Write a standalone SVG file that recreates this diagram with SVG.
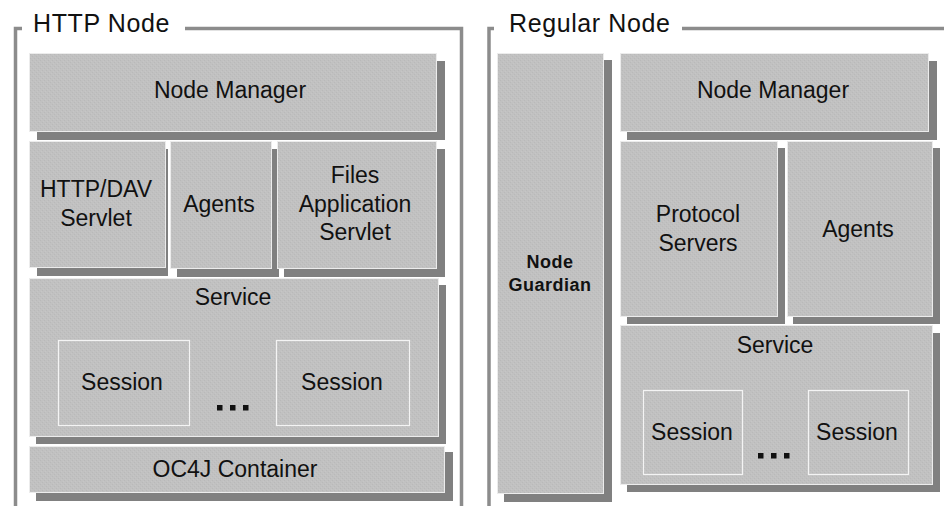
<svg xmlns="http://www.w3.org/2000/svg" width="944" height="506" viewBox="0 0 944 506">
  <defs>
    <pattern id="grain" width="4" height="4" patternUnits="userSpaceOnUse">
      <rect width="4" height="4" fill="#c1c1c1"/>
      <rect x="0" y="0" width="1" height="1" fill="#b9b9b9"/>
      <rect x="2" y="2" width="1" height="1" fill="#b9b9b9"/>
      <rect x="1" y="3" width="1" height="1" fill="#c6c6c6"/>
      <rect x="3" y="1" width="1" height="1" fill="#c6c6c6"/>
    </pattern>
  </defs>
  <style>
    .frame { fill: none; stroke: #8c8c8c; stroke-width: 3.5; }
    .shadow { fill: #808080; }
    .box { fill: url(#grain); stroke: #ececec; stroke-width: 1; }
    .inner { fill: none; stroke: #f4f4f4; stroke-width: 1.2; }
    .title { font-family: "Liberation Sans", Arial, sans-serif; font-size: 25px; fill: #111; }
    .lbl { font-family: "Liberation Sans", Arial, sans-serif; font-size: 23px; fill: #111; text-anchor: middle; }
    .small { font-family: "Liberation Sans", Arial, sans-serif; font-size: 18px; font-weight: bold; fill: #111; text-anchor: middle; }
    .dots { fill: #111; }
  </style>

  <!-- HTTP Node container -->
  <g id="http-node">
    <path class="frame" d="M15.5,506 V28.5 H22 M185,28.5 H461.5 V506"/>
    <text class="title" x="33" y="32" letter-spacing="0.6">HTTP Node</text>
  </g>

  <g id="http-node-manager">
    <rect class="shadow" x="37" y="61" width="408" height="79"/>
    <rect class="box" x="29.5" y="53.5" width="407" height="78"/>
    <text class="lbl" x="230" y="98">Node Manager</text>
  </g>

  <g id="http-dav-servlet">
    <rect class="shadow" x="37" y="149" width="131" height="127"/>
    <rect class="box" x="29.5" y="141.5" width="136" height="126"/>
    <text class="lbl" x="96" y="197">HTTP/DAV</text>
    <text class="lbl" x="96" y="226">Servlet</text>
  </g>

  <g id="http-agents">
    <rect class="shadow" x="177" y="149" width="102" height="128"/>
    <rect class="box" x="170.5" y="141.5" width="101" height="127"/>
    <text class="lbl" x="219" y="212">Agents</text>
  </g>

  <g id="files-application-servlet">
    <rect class="shadow" x="284" y="149" width="161" height="128"/>
    <rect class="box" x="277.5" y="141.5" width="159" height="127"/>
    <text class="lbl" x="355" y="183">Files</text>
    <text class="lbl" x="355" y="212">Application</text>
    <text class="lbl" x="355" y="240">Servlet</text>
  </g>

  <g id="http-service">
    <rect class="shadow" x="36" y="285" width="410" height="159"/>
    <rect class="box" x="29.5" y="278.5" width="409" height="158"/>
    <text class="lbl" x="233" y="305">Service</text>
    <g id="http-session-1">
      <rect class="inner" x="58.5" y="340.5" width="131" height="85"/>
      <text class="lbl" x="122" y="390">Session</text>
    </g>
    <g id="http-session-2">
      <rect class="inner" x="276.5" y="340.5" width="133" height="85"/>
      <text class="lbl" x="342" y="390">Session</text>
    </g>
    <g class="dots">
      <rect x="217" y="405" width="5.5" height="5.5"/>
      <rect x="230" y="405" width="5.5" height="5.5"/>
      <rect x="243" y="405" width="5.5" height="5.5"/>
    </g>
  </g>

  <g id="oc4j-container">
    <rect class="shadow" x="36" y="452" width="417" height="49"/>
    <rect class="box" x="29.5" y="446.5" width="415" height="46"/>
    <text class="lbl" x="235" y="477">OC4J Container</text>
  </g>

  <!-- Regular Node container -->
  <g id="regular-node">
    <path class="frame" d="M489,506 V28.5 H494 M682,28.5 H944"/>
    <text class="title" x="509" y="32" letter-spacing="0.6">Regular Node</text>
  </g>

  <g id="node-guardian">
    <rect class="shadow" x="504" y="60" width="108" height="442"/>
    <rect class="box" x="497.5" y="53.5" width="106" height="440"/>
    <text class="small" x="550" y="268" letter-spacing="0.5">Node</text>
    <text class="small" x="550" y="291" letter-spacing="0.5">Guardian</text>
  </g>

  <g id="regular-node-manager">
    <rect class="shadow" x="627" y="61" width="310" height="79"/>
    <rect class="box" x="620.5" y="53.5" width="308" height="78"/>
    <text class="lbl" x="773" y="98">Node Manager</text>
  </g>

  <g id="protocol-servers">
    <rect class="shadow" x="627" y="148" width="158" height="176"/>
    <rect class="box" x="620.5" y="141.5" width="157" height="175"/>
    <text class="lbl" x="698" y="222">Protocol</text>
    <text class="lbl" x="698" y="251">Servers</text>
  </g>

  <g id="regular-agents">
    <rect class="shadow" x="793" y="148" width="147" height="176"/>
    <rect class="box" x="787.5" y="141.5" width="145" height="175"/>
    <text class="lbl" x="858" y="237">Agents</text>
  </g>

  <g id="regular-service">
    <rect class="shadow" x="627" y="333" width="313" height="159"/>
    <rect class="box" x="620.5" y="325.5" width="312" height="159"/>
    <text class="lbl" x="775" y="353">Service</text>
    <g id="regular-session-1">
      <rect class="inner" x="643.5" y="390.5" width="99" height="84"/>
      <text class="lbl" x="692" y="440">Session</text>
    </g>
    <g id="regular-session-2">
      <rect class="inner" x="808.5" y="390.5" width="100" height="84"/>
      <text class="lbl" x="857" y="440">Session</text>
    </g>
    <g class="dots">
      <rect x="758" y="453" width="5.5" height="5.5"/>
      <rect x="771" y="453" width="5.5" height="5.5"/>
      <rect x="784" y="453" width="5.5" height="5.5"/>
    </g>
  </g>
</svg>
